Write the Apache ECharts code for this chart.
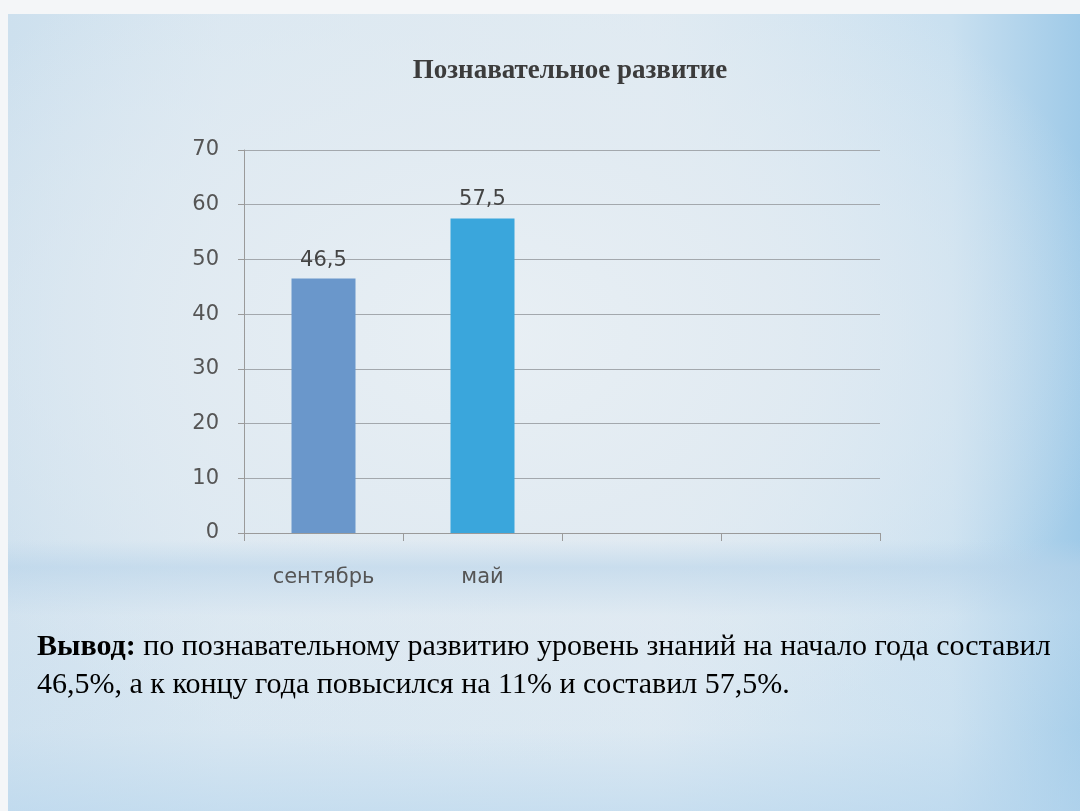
<!DOCTYPE html>
<html>
<head>
<meta charset="utf-8">
<script src="https://cdn.jsdelivr.net/npm/echarts@6/dist/echarts.min.js"></script>
<style>
html,body{margin:0;padding:0;width:1080px;height:811px;overflow:hidden;background:#f4f6f8;}
#bg{position:absolute;left:8px;top:14px;width:1072px;height:797px;
background:
 radial-gradient(ellipse 60% 55% at 45% 40%, rgba(232,239,244,1) 0%, rgba(226,235,242,0.9) 45%, rgba(214,230,242,0) 100%),
 linear-gradient(90deg, #cde0ee 0%, #d9e7f1 20%, #dfeaf2 60%, #c9e0f0 88%, #9fcae8 100%);}
#bg2{position:absolute;left:8px;top:540px;width:1072px;height:271px;
background:linear-gradient(180deg, rgba(185,212,234,0) 0%, rgba(185,212,234,0.6) 10%, rgba(220,232,242,0.3) 28%, rgba(210,228,242,0.2) 70%, rgba(185,215,238,0.6) 100%);}
#chart{position:absolute;left:0;top:0;width:1080px;height:811px;}
</style>
</head>
<body>
<div id="bg"></div>
<div id="bg2"></div>
<div id="chart"></div>
<script>
const categories = ['сентябрь', 'май', '', ''];
const values = [46.5, 57.5, null, null];
const barColors = ['#6a97cb', '#3aa6dc', '#3aa6dc', '#3aa6dc'];
const yTicks = [0, 10, 20, 30, 40, 50, 60, 70];
const titleText = 'Познавательное развитие';
const conclusionBold = 'Вывод:';
const conclusionLine1 = ' по познавательному развитию уровень знаний на начало года составил';
const conclusionLine2 = '46,5%, а к концу года повысился на 11% и составил 57,5%.';

const chart = echarts.init(document.getElementById('chart'), null, {renderer: 'canvas'});
const labelFont = 'DejaVu Sans';
const option = {
  backgroundColor: 'transparent',
  animation: false,
  title: {
    text: titleText, left: 565, top: 53, textAlign: 'center',
    textStyle: {fontFamily: 'Liberation Serif', fontWeight: 'bold', fontSize: 27, color: '#3c3c3c'}
  },
  grid: {left: 244, right: 200, top: 150, bottom: 278, containLabel: false},
  xAxis: {
    type: 'category', data: categories,
    axisLine: {show: true, lineStyle: {color: '#9a9a9a', width: 1}},
    axisTick: {show: true, alignWithLabel: false, length: 8, lineStyle: {color: '#9a9a9a'}},
    axisLabel: {margin: 34, fontFamily: labelFont, fontSize: 21, color: '#555'}
  },
  yAxis: {
    type: 'value', min: yTicks[0], max: yTicks[yTicks.length - 1], interval: 10,
    axisLine: {show: true, lineStyle: {color: '#9a9a9a'}},
    axisTick: {show: true, length: 6, lineStyle: {color: '#9a9a9a'}},
    axisLabel: {margin: 25, fontFamily: labelFont, fontSize: 21, color: '#555'},
    splitLine: {lineStyle: {color: '#a3a8ad', width: 1}}
  },
  series: [{
    type: 'bar', barWidth: 64,
    data: values.map((v, i) => ({value: v, itemStyle: {color: barColors[i]}})),
    label: {
      show: true, position: 'top', distance: 8,
      fontFamily: labelFont, fontSize: 21, color: '#444',
      formatter: p => p.value == null ? '' : String(p.value).replace('.', ',')
    }
  }],
  graphic: [{
    type: 'text', left: 37, top: 632,
    style: {
      text: '{b|' + conclusionBold + '}{n|' + conclusionLine1 + '}\n{n|' + conclusionLine2 + '}',
      rich: {
        b: {fontFamily: 'Liberation Serif', fontWeight: 'bold', fontSize: 30, color: '#303030', lineHeight: 38},
        n: {fontFamily: 'Liberation Serif', fontSize: 30, color: '#3c3c3c', lineHeight: 38}
      }
    }
  }]
};
chart.setOption(option);
</script>
</body>
</html>
